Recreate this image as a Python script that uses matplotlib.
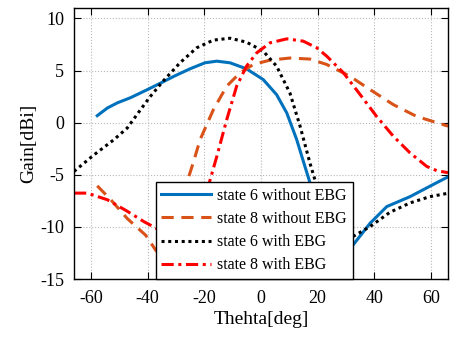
import numpy as np
import matplotlib
matplotlib.use("Agg")
import matplotlib.pyplot as plt

plt.rcParams['font.family'] = ['Liberation Serif', 'DejaVu Serif']
plt.rcParams['axes.unicode_minus'] = False

# state 6 without EBG
theta_s6 = [-57.8, -54.2, -50.7, -46, -40.1, -35.4, -30.7, -25.1, -19.8, -15.6, -10.9, -5.1, 0.8, 5.5,
            9.1, 12.6, 15.5, 17.9, 20, 23, 26, 29, 32.6, 38.5, 44.4, 52.6, 59.6, 66]
gain_s6 = [0.67, 1.41, 1.9, 2.4, 3.17, 3.8, 4.45, 5.16, 5.74, 5.9, 5.74, 5.16, 4.13, 2.69,
           0.93, -1.63, -4.2, -6.3, -8.2, -10.5, -12.3, -12.8, -11.7, -9.65, -8.05, -7.1, -6.1, -5.2]

# state 8 without EBG
theta_s8 = [-57.8, -53, -47.2, -40.7, -37, -34, -31, -26.2, -23.6, -21.5, -16.8, -12.1, -7.4, -2.7,
            3.2, 10.2, 17.3, 23.2, 31.4, 38.5, 46.7, 54.9, 65.5, 66]
gain_s8 = [-6.06, -7.4, -9.2, -10.8, -12.3, -12.6, -10.0, -5.8, -3.56, -1.63, 1.25, 3.5, 4.78, 5.58,
           6.0, 6.2, 6.1, 5.58, 4.45, 3.17, 1.73, 0.6, -0.29, -0.33]

# state 6 with EBG
theta_s6e = [-66, -58.9, -51.9, -47.2, -42.5, -39.2, -34.5, -28.6, -22.7, -16.8, -10.9, -5.1, 0.8, 5.5,
             10.2, 13.8, 17.3, 19.7, 22, 25, 28, 30, 32.6, 38.5, 45.5, 52.6, 59.6, 65.5, 66]
gain_s6e = [-4.68, -3.08, -1.63, -0.51, 1.25, 2.47, 4.0, 5.74, 7.18, 7.92, 8.1, 7.72, 6.86, 5.42,
            2.85, -0.35, -3.9, -6.1, -8.3, -10.0, -11.0, -11.2, -10.9, -9.97, -8.6, -7.7, -7.1, -6.8, -6.8]

# state 8 with EBG
theta_s8e = [-66, -61.3, -54.2, -47.2, -41.3, -37.2, -33, -29, -25, -22, -18.6, -15.6, -12.1, -8.6,
             -5.1, -1.5, 3.2, 9.1, 14.9, 19.7, 23.2, 29.1, 35, 40.8, 46.7, 52.6, 58.5, 62, 66]
gain_s8e = [-6.76, -6.76, -7.4, -8.5, -9.5, -10.1, -10.8, -11.0, -10.0, -8.6, -6.1, -3.24, 0.29, 3.5,
            5.42, 6.7, 7.66, 8.04, 7.82, 7.18, 6.38, 4.78, 2.69, 0.6, -1.3, -2.9, -4.2, -4.6, -4.8]

fig = plt.figure(figsize=(4.52, 3.38), dpi=100)
ax = fig.add_axes([74 / 452, 1 - 279 / 338, 374 / 452, 271 / 338])

ax.plot(theta_s6, gain_s6, color='#0072BD', lw=2.2, label='state 6 without EBG')
ax.plot(theta_s8, gain_s8, color='#D95319', lw=2.2, ls=(0, (4, 2.5)), label='state 8 without EBG')
ax.plot(theta_s6e, gain_s6e, color='black', lw=2.2, ls=(0, (1, 1.2)), label='state 6 with EBG')
ax.plot(theta_s8e, gain_s8e, color='red', lw=2.2, ls=(0, (4, 1.5, 1, 1.5)), label='state 8 with EBG')

ax.set_xlim(-66, 66)
ax.set_ylim(-15, 11)
ax.set_xticks([-60, -40, -20, 0, 20, 40, 60])
ax.set_yticks([-15, -10, -5, 0, 5, 10])
ax.grid(True, color='#b8b8b8', ls=':', lw=0.8)
ax.tick_params(direction='in', top=True, right=True, labelsize=13, length=5)
ax.tick_params(axis='x', pad=8)
ax.tick_params(axis='y', pad=7)
for s in ax.spines.values():
    s.set_linewidth(1.0)

ax.set_xlabel('Thehta[deg]', fontsize=14, labelpad=3)
ax.set_ylabel('Gain[dBi]', fontsize=14, labelpad=2)

leg = ax.legend(loc='lower left', bbox_to_anchor=(0.219, 0.0), fontsize=11.5, handlelength=3.1,
                fancybox=False, edgecolor='black', framealpha=1, borderaxespad=0,
                labelspacing=0.45, handletextpad=0.4, borderpad=0.35)
leg.get_frame().set_linewidth(1.0)

fig.savefig('out.png', dpi=100)
